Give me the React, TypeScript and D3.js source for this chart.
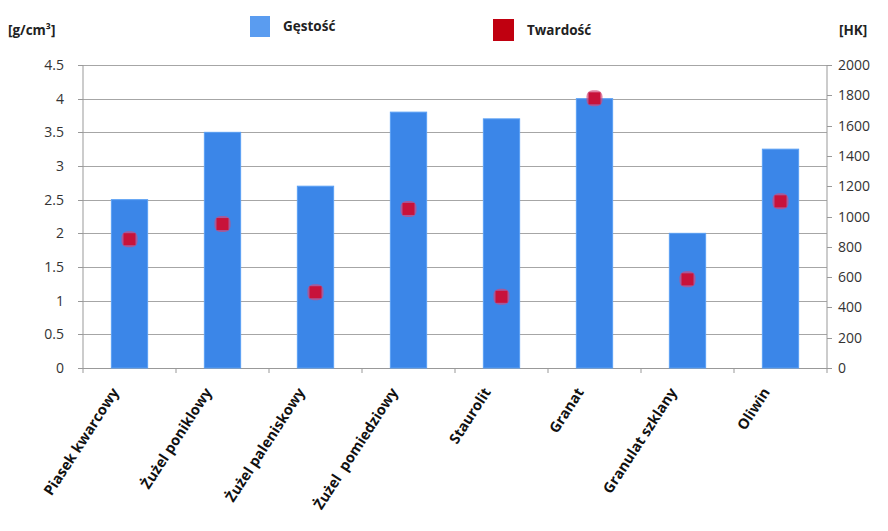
import { useEffect, useRef } from 'react'
import * as d3 from 'd3'

const categories = [
  'Piasek kwarcowy',
  'Żużel poniklowy',
  'Żużel paleniskowy',
  'Żużel  pomiedziowy',
  'Staurolit',
  'Granat',
  'Granulat szklany',
  'Oliwin',
]
const density = [2.5, 3.5, 2.7, 3.8, 3.7, 4.0, 2.0, 3.25]
const hardness = [850, 950, 500, 1050, 470, 1780, 585, 1100]
const leftTicks = [0, 0.5, 1, 1.5, 2, 2.5, 3, 3.5, 4, 4.5]
const rightTicks = [0, 200, 400, 600, 800, 1000, 1200, 1400, 1600, 1800, 2000]

function App() {
  const ref = useRef<SVGSVGElement | null>(null)

  useEffect(() => {
    const svg = d3.select(ref.current)
    svg.selectAll('*').remove()

    const left = 83
    const right = 827
    const top = 65
    const bottom = 368
    const font = "'Open Sans', 'DejaVu Sans', sans-serif"

    const x = d3.scaleBand<string>().domain(categories).range([left, right]).paddingInner(0.61).paddingOuter(0.305)
    const y = d3.scaleLinear().domain([0, 4.5]).range([bottom, top])
    const y2 = d3.scaleLinear().domain([0, 2000]).range([bottom, top])
    const step = x.step()

    // grid
    svg
      .append('g')
      .selectAll('line')
      .data(leftTicks)
      .join('line')
      .attr('x1', left)
      .attr('x2', right)
      .attr('y1', (d) => Math.round(y(d)) + 0.5)
      .attr('y2', (d) => Math.round(y(d)) + 0.5)
      .attr('stroke', '#a6a6a6')
      .attr('stroke-width', 1.2)

    // left axis
    const gl = svg.append('g')
    gl.append('line').attr('x1', left).attr('x2', left).attr('y1', top).attr('y2', bottom).attr('stroke', '#999')
    gl.selectAll('line.t')
      .data(leftTicks)
      .join('line')
      .attr('class', 't')
      .attr('x1', left - 5)
      .attr('x2', left)
      .attr('y1', (d) => Math.round(y(d)) + 0.5)
      .attr('y2', (d) => Math.round(y(d)) + 0.5)
      .attr('stroke', '#999')
    gl.selectAll('text')
      .data(leftTicks)
      .join('text')
      .attr('x', 64)
      .attr('y', (d) => y(d) + 5)
      .attr('text-anchor', 'end')
      .attr('font-family', font)
      .attr('font-size', 14)
      .attr('fill', '#333')
      .text((d) => String(d))

    // right axis
    const gr = svg.append('g')
    gr.append('line').attr('x1', right).attr('x2', right).attr('y1', top).attr('y2', bottom).attr('stroke', '#999')
    gr.selectAll('line.t')
      .data(rightTicks)
      .join('line')
      .attr('class', 't')
      .attr('x1', right)
      .attr('x2', right + 5)
      .attr('y1', (d) => Math.round(y2(d)) + 0.5)
      .attr('y2', (d) => Math.round(y2(d)) + 0.5)
      .attr('stroke', '#999')
    gr.selectAll('text')
      .data(rightTicks)
      .join('text')
      .attr('x', 838)
      .attr('y', (d) => y2(d) + 5)
      .attr('font-family', font)
      .attr('font-size', 14)
      .attr('fill', '#333')
      .text((d) => String(d))

    // x axis
    svg.append('line').attr('x1', left).attr('x2', right).attr('y1', bottom + 0.5).attr('y2', bottom + 0.5).attr('stroke', '#999')
    svg
      .append('g')
      .selectAll('line')
      .data(d3.range(categories.length + 1))
      .join('line')
      .attr('x1', (i) => left + i * step)
      .attr('x2', (i) => left + i * step)
      .attr('y1', bottom)
      .attr('y2', bottom + 5)
      .attr('stroke', '#999')

    // bars
    svg
      .append('g')
      .selectAll('rect')
      .data(categories)
      .join('rect')
      .attr('x', (d) => x(d)!)
      .attr('y', (d, i) => y(density[i]))
      .attr('width', x.bandwidth())
      .attr('height', (d, i) => bottom - y(density[i]))
      .attr('fill', '#3b86e8')
      .attr('stroke', '#5aa0f5')
      .attr('stroke-width', 1)

    // hardness markers
    const ms = 12
    const mk = svg.append('g')
    mk.selectAll('rect.halo')
      .data(categories)
      .join('rect')
      .attr('class', 'halo')
      .attr('x', (d) => x(d)! + x.bandwidth() / 2 - ms / 2 - 2)
      .attr('y', (d, i) => y2(hardness[i]) - ms / 2 - 2)
      .attr('width', ms + 4)
      .attr('height', ms + 4)
      .attr('rx', 6)
      .attr('fill', '#d1487a')
      .attr('opacity', 0.7)
    mk.selectAll('rect.m')
      .data(categories)
      .join('rect')
      .attr('class', 'm')
      .attr('x', (d) => x(d)! + x.bandwidth() / 2 - ms / 2)
      .attr('y', (d, i) => y2(hardness[i]) - ms / 2)
      .attr('width', ms)
      .attr('height', ms)
      .attr('fill', '#c8123a')

    // category labels
    svg
      .append('g')
      .selectAll('text')
      .data(categories)
      .join('text')
      .attr('transform', (d) => `translate(${x(d)! + x.bandwidth() / 2 - 10},${392}) rotate(-57)`)
      .attr('text-anchor', 'end')
      .attr('font-family', font)
      .attr('font-weight', 'bold')
      .attr('font-size', 14.5)
      .attr('fill', '#111')
      .style('white-space', 'pre')
      .text((d) => d)

    // unit labels
    svg.append('text').attr('x', 8).attr('y', 35).attr('font-family', font).attr('font-weight', 'bold').attr('font-size', 13.5).attr('fill', '#222').text('[g/cm³]')
    svg.append('text').attr('x', 839).attr('y', 35).attr('font-family', font).attr('font-weight', 'bold').attr('font-size', 13.5).attr('fill', '#222').text('[HK]')

    // legend
    svg.append('rect').attr('x', 250).attr('y', 16).attr('width', 20).attr('height', 21).attr('fill', '#5a9cf0')
    svg.append('text').attr('x', 283).attr('y', 31).attr('font-family', font).attr('font-weight', 'bold').attr('font-size', 13.5).attr('fill', '#222').text('Gęstość')
    svg.append('rect').attr('x', 493).attr('y', 19).attr('width', 21).attr('height', 22).attr('fill', '#c00010')
    svg.append('text').attr('x', 527).attr('y', 35).attr('font-family', font).attr('font-weight', 'bold').attr('font-size', 13.5).attr('fill', '#222').text('Twardość')
  }, [])

  return (
    <svg
      ref={ref}
      width={888}
      height={531}
      style={{ position: 'absolute', left: 0, top: 0, background: '#fff' }}
    />
  )
}

export default App
